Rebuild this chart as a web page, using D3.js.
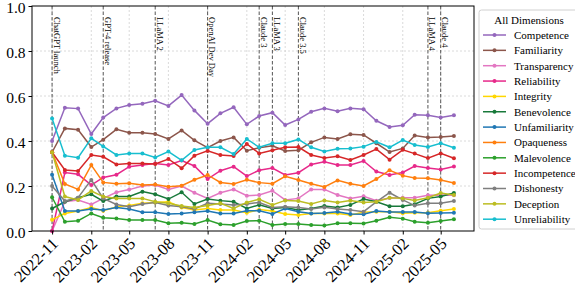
<!doctype html>
<meta charset=utf8>
<title>All Dimensions over time</title>
<style>
  body { margin: 0; background: white; }
  svg { display: block; }
  svg text { font-family: "Liberation Serif", "Times New Roman", serif; }
  .grid line { stroke: #d0d0d0; stroke-width: 0.8; stroke-dasharray: 2,2; }
  .line { fill: none; stroke-width: 1.5; }
</style>
<svg width=575 height=286></svg>
<script src=https://cdn.jsdelivr.net/npm/d3@7></script>
<script>
  // months of the series
  var months = ['2022-11', '2022-12',
    '2023-01', '2023-02', '2023-03', '2023-04', '2023-05', '2023-06',
    '2023-07', '2023-08', '2023-09', '2023-10', '2023-11', '2023-12',
    '2024-01', '2024-02', '2024-03', '2024-04', '2024-05', '2024-06',
    '2024-07', '2024-08', '2024-09', '2024-10', '2024-11', '2024-12',
    '2025-01', '2025-02', '2025-03', '2025-04', '2025-05', '2025-06'];

  var tickLabels = ['2022-11', '2023-02', '2023-05', '2023-08', '2023-11', '2024-02',
    '2024-05', '2024-08', '2024-11', '2025-02', '2025-05'];
  var yTicks = [0, 0.2, 0.4, 0.6, 0.8, 1.0];

  var eventLabels = ['ChatGPT launch', 'GPT-4 release', 'LLaMA 2', 'OpenAI Dev Day',
    'Claude 3', 'LLaMA 3', 'Claude 3.5', 'LLaMA 4', 'Claude 4'];
  var eventMonths = ['2022-11', '2023-03', '2023-07', '2023-11',
    '2024-03', '2024-04', '2024-06', '2025-04', '2025-05'];

  var names = ['Competence', 'Familiarity', 'Transparency', 'Reliability', 'Integrity',
    'Benevolence', 'Unfamiliarity', 'Opaqueness', 'Malevolence', 'Incompetence',
    'Dishonesty', 'Deception', 'Unreliability'];
  var colors = ['#9467bd', '#8c564b', '#e377c2', '#e7298a', '#ffd700',
    '#18793a', '#1f77b4', '#ff7f0e', '#2ca02c', '#d62728',
    '#7f7f7f', '#bcbd22', '#17becf'];

  var competence = [0.40, 0.548, 0.544, 0.431, 0.504, 0.545, 0.56, 0.566,
    0.579, 0.556, 0.604, 0.536, 0.477, 0.523, 0.55, 0.474,
    0.511, 0.526, 0.471, 0.496, 0.53, 0.545, 0.532, 0.545,
    0.541, 0.49, 0.462, 0.47, 0.517, 0.514, 0.505, 0.514];
  var familiarity = [0.35, 0.456, 0.45, 0.373, 0.406, 0.452, 0.437, 0.437,
    0.431, 0.409, 0.447, 0.403, 0.37, 0.40, 0.416, 0.357,
    0.37, 0.379, 0.356, 0.359, 0.394, 0.416, 0.409, 0.43,
    0.427, 0.39, 0.351, 0.367, 0.424, 0.416, 0.418, 0.422];
  var transparency = [0.0, 0.13, 0.138, 0.118, 0.145, 0.172, 0.184, 0.2,
    0.204, 0.185, 0.20, 0.17, 0.145, 0.17, 0.185, 0.157,
    0.16, 0.179, 0.138, 0.145, 0.185, 0.185, 0.16, 0.145,
    0.154, 0.135, 0.147, 0.148, 0.148, 0.159, 0.16, 0.159];
  var reliability = [0.0, 0.26, 0.252, 0.204, 0.238, 0.25, 0.286, 0.293,
    0.30, 0.293, 0.313, 0.289, 0.231, 0.268, 0.286, 0.244,
    0.27, 0.28, 0.249, 0.259, 0.296, 0.308, 0.293, 0.293,
    0.311, 0.264, 0.249, 0.26, 0.289, 0.28, 0.273, 0.287];
  var integrity = [0.05, 0.078, 0.089, 0.104, 0.09, 0.107, 0.113, 0.123,
    0.127, 0.13, 0.104, 0.093, 0.10, 0.093, 0.093, 0.081,
    0.095, 0.089, 0.076, 0.071, 0.078, 0.078, 0.078, 0.071,
    0.083, 0.086, 0.086, 0.079, 0.081, 0.081, 0.09, 0.098];
  var benevolence = [0.10, 0.13, 0.148, 0.163, 0.133, 0.153, 0.153, 0.175,
    0.163, 0.142, 0.172, 0.12, 0.142, 0.135, 0.13, 0.10,
    0.116, 0.10, 0.104, 0.093, 0.10, 0.111, 0.104, 0.116,
    0.142, 0.13, 0.11, 0.11, 0.119, 0.145, 0.153, 0.169];
  var unfamiliarity = [0.25, 0.089, 0.089, 0.098, 0.093, 0.104, 0.098, 0.083,
    0.083, 0.076, 0.078, 0.083, 0.089, 0.078, 0.078, 0.09,
    0.09, 0.076, 0.10, 0.086, 0.078, 0.08, 0.086, 0.076,
    0.074, 0.089, 0.084, 0.084, 0.084, 0.079, 0.08, 0.081];
  var opaqueness = [0.35, 0.209, 0.185, 0.293, 0.216, 0.21, 0.212, 0.204,
    0.207, 0.197, 0.201, 0.228, 0.249, 0.216, 0.209, 0.228,
    0.215, 0.21, 0.243, 0.227, 0.21, 0.196, 0.225, 0.21,
    0.20, 0.231, 0.27, 0.246, 0.236, 0.234, 0.227, 0.213];
  var malevolence = [0.15, 0.041, 0.046, 0.078, 0.059, 0.056, 0.049, 0.049,
    0.049, 0.034, 0.037, 0.031, 0.049, 0.03, 0.027, 0.044,
    0.046, 0.027, 0.031, 0.031, 0.027, 0.024, 0.034, 0.034,
    0.033, 0.046, 0.061, 0.055, 0.041, 0.037, 0.044, 0.052];
  var incompetence = [0.35, 0.271, 0.267, 0.338, 0.33, 0.296, 0.30, 0.30,
    0.298, 0.32, 0.279, 0.335, 0.356, 0.338, 0.333, 0.387,
    0.345, 0.359, 0.372, 0.373, 0.338, 0.324, 0.332, 0.316,
    0.338, 0.364, 0.317, 0.361, 0.344, 0.324, 0.345, 0.323];
  var dishonesty = [0.20, 0.133, 0.148, 0.227, 0.145, 0.118, 0.108, 0.12,
    0.127, 0.113, 0.108, 0.098, 0.123, 0.12, 0.116, 0.12,
    0.127, 0.105, 0.108, 0.104, 0.098, 0.105, 0.098, 0.093,
    0.086, 0.129, 0.17, 0.138, 0.113, 0.123, 0.123, 0.133];
  var deception = [0.35, 0.153, 0.138, 0.178, 0.153, 0.145, 0.145, 0.145,
    0.13, 0.123, 0.111, 0.104, 0.113, 0.123, 0.10, 0.127,
    0.141, 0.116, 0.136, 0.133, 0.12, 0.136, 0.127, 0.135,
    0.127, 0.13, 0.148, 0.145, 0.136, 0.148, 0.169, 0.16];
  var unreliability = [0.50, 0.335, 0.326, 0.412, 0.376, 0.338, 0.344, 0.344,
    0.327, 0.353, 0.314, 0.36, 0.372, 0.372, 0.342, 0.409,
    0.372, 0.39, 0.39, 0.407, 0.372, 0.353, 0.366, 0.367,
    0.375, 0.396, 0.372, 0.404, 0.382, 0.373, 0.39, 0.37];

  var seriesValues = [competence, familiarity, transparency, reliability, integrity,
    benevolence, unfamiliarity, opaqueness, malevolence, incompetence,
    dishonesty, deception, unreliability];

  var parseMonth = d3.utcParse('%Y-%m');
  var series = names.map(function(name, i) {
    return {
      name: name,
      color: colors[i],
      values: seriesValues[i].map(function(v, j) {
        return { date: parseMonth(months[j]), value: v };
      })
    };
  });

  var svg = d3.select('svg');
  var margin = { top: 6, right: 101, bottom: 55, left: 32 };
  var width = +svg.attr('width') - margin.left - margin.right;
  var height = +svg.attr('height') - margin.top - margin.bottom;
  var g = svg.append('g').attr('transform', 'translate(' + margin.left + ',' + margin.top + ')');

  // matplotlib style 5% padding around the data range
  var first = parseMonth(months[0]);
  var last = parseMonth(months[months.length - 1]);
  var pad = (last - first) * 0.05;
  var x = d3.scaleUtc().domain([new Date(+first - pad), new Date(+last + pad)]).range([0, width]);
  var y = d3.scaleLinear().domain([0, 1]).range([height, 0]);
  var tickDates = tickLabels.map(parseMonth);

  // grid
  var grid = g.append('g').attr('class', 'grid');
  grid.selectAll('.gx').data(tickDates).enter().append('line')
    .attr('x1', function(d) { return x(d); })
    .attr('x2', function(d) { return x(d); })
    .attr('y1', 0).attr('y2', height);
  grid.selectAll('.gy').data(yTicks.slice(1, -1)).enter().append('line')
    .attr('x1', 0).attr('x2', width)
    .attr('y1', function(d) { return y(d); })
    .attr('y2', function(d) { return y(d); });

  // event markers
  var ev = g.selectAll('.event').data(eventLabels).enter().append('g').attr('class', 'event')
    .attr('transform', function(d, i) { return 'translate(' + x(parseMonth(eventMonths[i])) + ',0)'; });
  ev.append('line')
    .attr('y1', 0).attr('y2', height)
    .attr('stroke', '#555').attr('stroke-width', 1).attr('stroke-dasharray', '3.5,2');
  ev.append('text')
    .attr('transform', 'translate(1.5,11) rotate(90)')
    .attr('font-size', 8.5)
    .attr('fill', '#000')
    .text(function(d) { return d; });

  // lines
  var line = d3.line()
    .x(function(d) { return x(d.date); })
    .y(function(d) { return y(d.value); });

  var s = g.selectAll('.series').data(series).enter().append('g').attr('class', 'series');
  s.append('path')
    .attr('class', 'line')
    .attr('stroke', function(d) { return d.color; })
    .attr('d', function(d) { return line(d.values); });
  s.selectAll('circle').data(function(d) {
    return d.values.map(function(v) { return { date: v.date, value: v.value, color: d.color }; });
  }).enter().append('circle')
    .attr('cx', function(d) { return x(d.date); })
    .attr('cy', function(d) { return y(d.value); })
    .attr('r', 2)
    .attr('fill', function(d) { return d.color; });

  // axes
  var xAxis = g.append('g')
    .attr('transform', 'translate(0,' + height + ')')
    .call(d3.axisBottom(x).tickValues(tickDates).tickSizeInner(3.5).tickSizeOuter(0).tickFormat(d3.utcFormat('%Y-%m')));
  xAxis.select('.domain').remove();
  xAxis.selectAll('text')
    .attr('font-size', 16.5)
    .attr('font-family', '"Liberation Serif", serif')
    .attr('fill', '#000')
    .style('text-anchor', 'end')
    .attr('dx', 0).attr('dy', 0)
    .attr('transform', 'translate(2,9) rotate(-45)');

  var yAxis = g.append('g')
    .call(d3.axisLeft(y).tickValues(yTicks).tickSizeInner(3.5).tickSizeOuter(0).tickFormat(d3.format('.1f')));
  yAxis.select('.domain').remove();
  yAxis.selectAll('text')
    .attr('font-size', 15.5)
    .attr('font-family', '"Liberation Serif", serif')
    .attr('fill', '#000')
    .attr('dy', '0.4em');

  g.append('rect')
    .attr('width', width).attr('height', height)
    .attr('fill', 'none').attr('stroke', '#000').attr('stroke-width', 1);

  // legend
  var legend = svg.append('g').attr('transform', 'translate(479,10)');
  legend.append('rect')
    .attr('width', 110).attr('height', 219).attr('rx', 2.5)
    .attr('fill', 'white').attr('stroke', '#d0d0d0').attr('stroke-width', 1);
  legend.append('text')
    .attr('x', 50).attr('y', 14)
    .attr('text-anchor', 'middle')
    .attr('font-size', 11)
    .text('All Dimensions');
  var item = legend.selectAll('.item').data(series).enter().append('g')
    .attr('transform', function(d, i) { return 'translate(0,' + (25 + i * 15.35) + ')'; });
  item.append('line')
    .attr('x1', 4).attr('x2', 27)
    .attr('stroke', function(d) { return d.color; }).attr('stroke-width', 1.5);
  item.append('circle')
    .attr('cx', 15.5).attr('r', 2)
    .attr('fill', function(d) { return d.color; });
  item.append('text')
    .attr('x', 35).attr('dy', '0.35em')
    .attr('font-size', 11)
    .text(function(d) { return d.name; });
</script>
